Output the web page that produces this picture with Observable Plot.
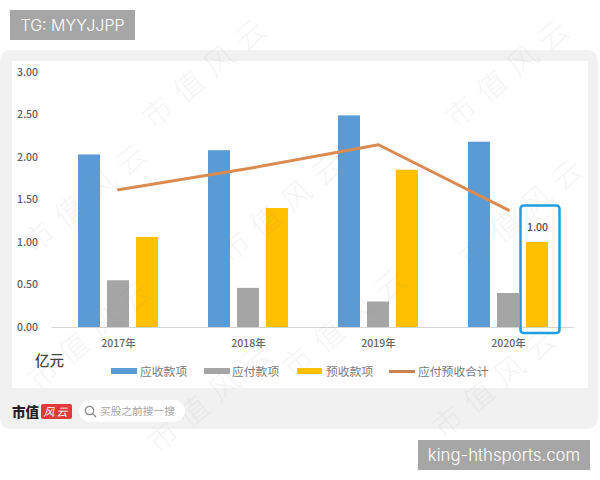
<!DOCTYPE html>
<html lang="zh">
<head>
<meta charset="utf-8">
<script src="https://cdn.jsdelivr.net/npm/d3@7"></script>
<script src="https://cdn.jsdelivr.net/npm/@observablehq/plot@0.6"></script>
<style>
html,body{margin:0;padding:0;background:#fff;overflow:hidden}
body{font-family:"Noto Sans CJK SC","Noto Sans",sans-serif}
#page{position:relative;width:600px;height:480px;overflow:hidden;background:#fff}
#page>*{position:absolute}
.card{left:0;top:50px;width:598px;height:379px;background:#f1f1f1;border-radius:10px}
.inner{left:12px;top:61px;width:576px;height:327px;background:#fff}
#chart{left:0;top:0}
#chart svg{display:block;background:transparent}
.tag{background:#a6a6a6;color:#fff;font-family:Inter,"Liberation Sans",sans-serif;font-weight:300;display:flex;align-items:center;justify-content:center;font-size:16px}
.wm{color:#888;opacity:.08;font-size:30px;line-height:40px;letter-spacing:10px;transform:rotate(-40deg);transform-origin:left center;white-space:nowrap;font-weight:300;pointer-events:none}
.lg{top:362px;font-size:11.8px;line-height:18px;color:#7a7a7a;white-space:nowrap}
.sw{height:6px;top:367.5px}
.unit{left:35px;top:350px;font-size:14.5px;line-height:20px;color:#444;font-weight:500}
.logo{left:12px;top:401px;font-size:13.5px;line-height:20px;font-weight:900;color:#222}
.red{left:41px;top:404px;width:31px;height:15px;background:#e23a3a;color:#fff;border-radius:2px;font-size:11px;line-height:15px;text-align:center;font-style:italic;letter-spacing:2px}
.pill{left:79px;top:400px;width:106px;height:22px;background:#fff;border-radius:11px}
.pilltxt{left:100px;top:402px;font-size:10.7px;line-height:18px;color:#a5a5a5;white-space:nowrap}
.mag{left:84px;top:405px}
</style>
</head>
<body>
<div id="page">
  <div class="card"></div>
  <div class="inner"></div>
  <div id="chart"></div>
  <div class="wm" style="left:145px;top:100px">市值风云</div>
  <div class="wm" style="left:448px;top:100px">市值风云</div>
  <div class="wm" style="left:26px;top:225px">市值风云</div>
  <div class="wm" style="left:222px;top:235px">市值风云</div>
  <div class="wm" style="left:462px;top:240px">市值风云</div>
  <div class="wm" style="left:30px;top:362px">市值风云</div>
  <div class="wm" style="left:285px;top:350px">市值风云</div>
  <div class="wm" style="left:150px;top:425px">市值风云</div>
  <div class="wm" style="left:435px;top:410px">市值风云</div>
  <div class="tag" style="left:10px;top:10px;width:125px;height:30px">TG: MYYJJPP</div>
  <div class="tag" style="left:418px;top:440px;width:172px;height:30px;font-size:16.8px">king-hthsports.com</div>
  <div class="unit">亿元</div>
  <div class="sw" style="left:111px;width:26px;background:#5b9bd5"></div>
  <div class="lg" style="left:140px">应收款项</div>
  <div class="sw" style="left:204px;width:26px;background:#a5a5a5"></div>
  <div class="lg" style="left:232px">应付款项</div>
  <div class="sw" style="left:297px;width:25px;background:#ffc000"></div>
  <div class="lg" style="left:326px">预收款项</div>
  <div class="sw" style="left:389px;width:26px;height:3px;top:369.5px;background:#c9824f"></div>
  <div class="lg" style="left:418px">应付预收合计</div>
  <div class="logo">市值</div>
  <div class="red">风云</div>
  <div class="pill"></div>
  <svg class="mag" width="13" height="13" viewBox="0 0 13 13"><circle cx="5.5" cy="5.5" r="4.2" fill="none" stroke="#8a8a8a" stroke-width="1.2"/><path d="M8.6 8.6L12 12" stroke="#8a8a8a" stroke-width="1.3"/></svg>
  <div class="pilltxt">买股之前搜一搜</div>
</div>
<script>
const years = ["2017", "2018", "2019", "2020"];
const receivable = [2.03, 2.08, 2.49, 2.18];
const payable = [0.55, 0.46, 0.30, 0.40];
const advance = [1.06, 1.40, 1.85, 1.00];
const total = [1.62, 1.87, 2.15, 1.38];
const yTicks = [0, 0.5, 1, 1.5, 2, 2.5, 3];
const highlightYear = ["2020"];
const highlightValue = [1.00];

const font = '"Noto Sans CJK SC","Noto Sans",sans-serif';
const barOpts = {insetLeft: 54, insetRight: 54};
const idx = years.map((_, i) => i);

const plot = Plot.plot({
  width: 600,
  height: 480,
  marginTop: 72,
  marginBottom: 153,
  marginLeft: 51.5,
  marginRight: 26,
  style: {background: "transparent", fontFamily: font},
  x: {type: "band", domain: years, padding: 0, label: null},
  y: {domain: [0, 3], label: null},
  marks: [
    Plot.ruleY([0], {stroke: "#d4d4d4", strokeWidth: 1}),
    Plot.barY(idx, {x: i => years[i], y: i => receivable[i], fill: "#5b9bd5", dx: -29, ...barOpts}),
    Plot.barY(idx, {x: i => years[i], y: i => payable[i], fill: "#a5a5a5", ...barOpts}),
    Plot.barY(idx, {x: i => years[i], y: i => advance[i], fill: "#ffc000", dx: 29, ...barOpts}),
    Plot.line(idx, {x: i => years[i], y: i => total[i], stroke: "#d98b52", strokeWidth: 3}),
    Plot.rectY(highlightYear, {x: d => d, y1: -0.07, y2: 1.43, dx: 32, insetLeft: 45.5, insetRight: 45.5, fill: "none", stroke: "#1f9fe0", strokeWidth: 2.5, rx: 3}),
    Plot.text(highlightValue, {x: () => highlightYear[0], y: d => d, text: d => d.toFixed(2), dx: 29, dy: -15, fontSize: 10.5, fontWeight: 500, fill: "#505050"}),
    Plot.axisY({ticks: yTicks, tickSize: 0, tickPadding: 14, tickFormat: d => d.toFixed(2), fontSize: 10.5, fontWeight: 500, color: "#5f5f5f", label: null}),
    Plot.axisX({tickSize: 0, tickPadding: 12, tickFormat: d => d + "年", fontSize: 10.5, fontWeight: 500, color: "#666", label: null})
  ]
});
document.getElementById("chart").appendChild(plot);
</script>
</body>
</html>
